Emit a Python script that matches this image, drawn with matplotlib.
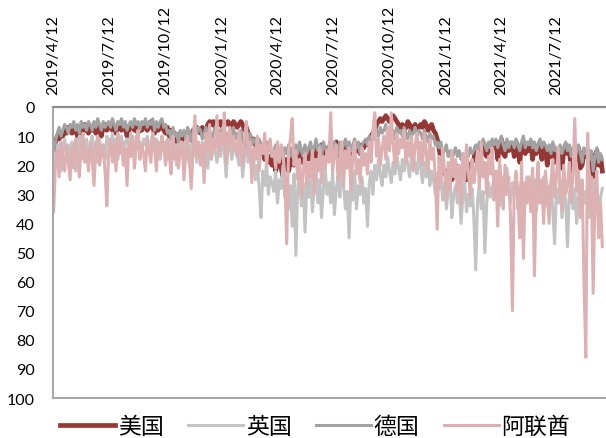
import matplotlib
matplotlib.use("Agg")
import matplotlib.pyplot as plt
import pandas as pd

# rank samples every 3 days starting 2019/4/12 (lower = better)
start = "2019-04-12"
step_days = 3

us_rank = [
    17, 12, 10, 11, 9, 10, 8, 9, 7, 8,
    9, 7, 8, 10, 7, 9, 8, 6, 8, 9,
    7, 8, 6, 9, 7, 8, 10, 7, 6, 8,
    7, 6, 8, 7, 9, 6, 7, 8, 6, 7,
    10, 8, 7, 6, 8, 7, 9, 6, 8, 7,
    6, 8, 7, 5, 7, 9, 6, 8, 7, 6,
    8, 9, 7, 10, 8, 11, 9, 12, 10, 9,
    11, 10, 12, 9, 11, 10, 8, 9, 7, 8,
    9, 7, 10, 8, 6, 5, 6, 5, 7, 5,
    6, 5, 7, 5, 6, 5, 6, 7, 5, 6,
    7, 6, 5, 6, 8, 7, 9, 10, 12, 11,
    13, 14, 12, 16, 15, 18, 16, 19, 17, 20,
    18, 22, 19, 17, 21, 24, 20, 18, 22, 19,
    17, 20, 16, 18, 15, 19, 17, 14, 16, 18,
    15, 17, 14, 16, 19, 15, 13, 16, 14, 17,
    15, 13, 16, 14, 12, 15, 17, 14, 16, 13,
    15, 17, 14, 16, 13, 15, 14, 16, 13, 14,
    12, 13, 11, 10, 9, 8, 6, 5, 4, 5,
    4, 3, 4, 5, 4, 3, 4, 5, 6, 7,
    6, 8, 7, 5, 6, 8, 7, 6, 8, 7,
    6, 7, 5, 6, 8, 7, 6, 8, 9, 11,
    14, 18, 21, 23, 22, 24, 21, 25, 23, 20,
    22, 26, 24, 21, 23, 25, 22, 20, 19, 18,
    14, 17, 13, 15, 12, 16, 17, 13, 15, 12,
    14, 12, 18, 13, 11, 16, 17, 12, 15, 14,
    13, 17, 12, 14, 19, 13, 12, 16, 13, 15,
    12, 18, 13, 16, 14, 12, 18, 13, 14, 20,
    14, 17, 13, 19, 15, 18, 14, 21, 15, 13,
    16, 14, 22, 15, 19, 16, 14, 21, 20, 15,
    17, 15, 19, 16, 24, 18, 15, 20, 17, 22,
]
uk_rank = [
    16, 20, 13, 18, 22, 15, 11, 17, 13, 19,
    12, 16, 22, 14, 10, 18, 13, 16, 11, 20,
    14, 10, 17, 12, 19, 11, 15, 13, 18, 10,
    12, 16, 9, 14, 11, 18, 13, 10, 15, 12,
    11, 15, 9, 13, 17, 10, 14, 12, 16, 11,
    13, 10, 16, 12, 9, 15, 11, 14, 18, 10,
    15, 12, 18, 14, 11, 17, 13, 20, 12, 16,
    14, 18, 11, 16, 20, 13, 17, 12, 19, 14,
    16, 12, 18, 14, 21, 13, 17, 11, 15, 19,
    13, 17, 11, 15, 24, 14, 12, 18, 15, 13,
    16, 20, 14, 24, 17, 12, 19, 15, 22, 18,
    25, 20, 28, 38, 22, 27, 19, 30, 24, 26,
    29, 22, 33, 25, 28, 20, 31, 24, 35, 27,
    41, 23, 51, 28, 22, 34, 26, 43, 25, 31,
    24, 36, 27, 22, 33, 25, 38, 28, 21, 30,
    26, 33, 22, 37, 28, 24, 31, 20, 27, 35,
    29, 45, 25, 32, 22, 35, 27, 30, 24, 33,
    28, 41, 26, 22, 30, 20, 25, 18, 23, 27,
    20, 24, 17, 22, 26, 19, 23, 16, 21, 25,
    18, 22, 15, 20, 24, 17, 21, 19, 23, 16,
    21, 26, 19, 24, 18, 27, 22, 25, 30, 23,
    28, 24, 32, 26, 35, 29, 25, 38, 30, 27,
    33, 28, 40, 31, 26, 36, 30, 34, 28, 38,
    56, 32, 27, 35, 29, 50, 33, 26, 31, 28,
    25, 31, 22, 34, 27, 24, 30, 21, 28, 33,
    26, 30, 23, 35, 28, 25, 32, 27, 24, 30,
    28, 33, 25, 36, 29, 26, 31, 24, 34, 27,
    30, 26, 35, 47, 28, 33, 25, 38, 29, 32,
    48, 30, 26, 35, 28, 40, 31, 27, 36, 29,
    33, 27, 38, 30, 25, 35, 29, 41, 31, 28,
]
de_rank = [
    15, 12, 9, 7, 10, 8, 6, 7, 9, 6,
    7, 5, 8, 6, 9, 5, 7, 6, 8, 5,
    6, 8, 5, 7, 4, 6, 8, 5, 7, 6,
    5, 7, 4, 6, 8, 5, 6, 4, 7, 5,
    8, 6, 5, 7, 4, 6, 5, 8, 5, 6,
    4, 7, 5, 6, 4, 8, 5, 7, 5, 4,
    7, 6, 9, 8, 11, 7, 10, 9, 12, 8,
    10, 8, 11, 7, 9, 12, 8, 6, 9, 7,
    8, 11, 9, 7, 10, 8, 12, 9, 7, 10,
    8, 11, 7, 10, 9, 12, 8, 10, 7, 11,
    9, 13, 8, 11, 14, 10, 12, 9, 13, 11,
    12, 15, 11, 14, 13, 16, 12, 15, 14, 17,
    15, 13, 17, 14, 16, 18, 14, 16, 13, 17,
    14, 18, 13, 16, 12, 15, 17, 13, 16, 14,
    12, 16, 14, 11, 15, 13, 17, 12, 14, 16,
    13, 11, 15, 12, 14, 16, 12, 15, 13, 11,
    14, 12, 15, 13, 11, 14, 12, 16, 13, 12,
    11, 13, 10, 12, 9, 11, 8, 10, 7, 9,
    8, 6, 9, 7, 10, 8, 11, 7, 9, 8,
    10, 7, 9, 11, 8, 10, 9, 7, 10, 8,
    9, 11, 8, 10, 12, 9, 11, 10, 13, 12,
    14, 12, 16, 15, 13, 17, 15, 18, 16, 14,
    17, 15, 18, 16, 19, 15, 17, 14, 16, 15,
    13, 15, 12, 14, 11, 13, 15, 12, 14, 11,
    13, 11, 14, 12, 10, 13, 15, 11, 14, 12,
    12, 14, 11, 13, 15, 12, 10, 14, 12, 13,
    11, 14, 12, 15, 13, 11, 14, 12, 13, 15,
    13, 16, 12, 15, 14, 17, 13, 16, 14, 12,
    15, 13, 17, 14, 18, 15, 13, 16, 19, 14,
    16, 14, 18, 15, 22, 17, 14, 19, 16, 18,
]
uae_rank = [
    36, 20, 15, 24, 12, 18, 22, 13, 19, 25,
    14, 21, 11, 17, 24, 13, 9, 19, 15, 22,
    12, 18, 27, 14, 10, 20, 16, 13, 22, 34,
    15, 11, 19, 13, 22, 9, 16, 12, 20, 14,
    27, 12, 17, 10, 21, 14, 8, 18, 13, 16,
    22, 11, 15, 19, 9, 14, 22, 12, 17, 10,
    14, 20, 11, 16, 23, 10, 18, 13, 21, 15,
    12, 25, 16, 10, 19, 28, 14, 3, 17, 12,
    20, 13, 26, 9, 15, 6, 18, 11, 14, 3,
    16, 9, 13, 2, 19, 11, 7, 15, 10, 13,
    17, 8, 14, 20, 11, 5, 16, 12, 26, 14,
    18, 10, 22, 13, 16, 9, 20, 14, 11, 17,
    15, 21, 12, 19, 13, 16, 24, 47, 15, 11,
    4, 20, 15, 25, 18, 31, 22, 16, 27, 19,
    24, 15, 30, 18, 22, 14, 26, 17, 21, 15,
    19, 2, 22, 16, 13, 25, 18, 12, 27, 15,
    21, 14, 29, 17, 12, 23, 18, 26, 14, 20,
    16, 23, 12, 19, 8, 2, 17, 11, 20, 14,
    10, 18, 7, 15, 2, 13, 20, 9, 16, 11,
    14, 8, 19, 12, 17, 10, 22, 13, 9, 18,
    12, 20, 9, 16, 22, 11, 18, 14, 25, 42,
    17, 26, 14, 22, 32, 19, 28, 15, 24, 18,
    29, 20, 34, 16, 25, 13, 22, 31, 18, 26,
    21, 15, 28, 12, 24, 19, 30, 17, 23, 14,
    32, 22, 41, 18, 27, 35, 20, 30, 24, 38,
    70, 28, 22, 31, 45, 19, 52, 26, 33, 24,
    36, 21, 58, 28, 19, 33, 25, 40, 22, 30,
    40, 26, 18, 31, 24, 14, 28, 35, 20, 30,
    27, 19, 33, 23, 4, 29, 22, 38, 25, 60,
    86, 9, 35, 24, 64, 30, 22, 45, 33, 48,
]

series_names = ["美国", "英国", "德国", "阿联酋"]
series_colors = ["#953735", "#C3C3C3", "#A2A2A2", "#DDB1B1"]
series_widths = [3.4, 2.2, 2.2, 2.2]
tick_dates = ["2019-04-12", "2019-07-12", "2019-10-12", "2020-01-12", "2020-04-12",
              "2020-07-12", "2020-10-12", "2021-01-12", "2021-04-12", "2021-07-12"]

dates = pd.date_range(start, periods=len(us_rank), freq=f"{step_days}D")

plt.rcParams["font.family"] = ["Lato", "DejaVu Sans"]

fig = plt.figure(figsize=(6.06, 4.39), dpi=100)
ax = fig.add_axes([0.0875, 0.091, 0.9125, 0.663])

for name, vals, c, lw in zip(series_names, [us_rank, uk_rank, de_rank, uae_rank],
                             series_colors, series_widths):
    ax.plot(dates, vals, color=c, lw=lw, label=name, solid_joinstyle="round")

ax.set_ylim(100, 0)
ax.set_yticks(range(0, 101, 10))
ax.set_xlim(pd.Timestamp(start) - pd.Timedelta(days=1), pd.Timestamp(start) + pd.Timedelta(days=903))

ticks = pd.to_datetime(tick_dates)
ax.set_xticks(ticks)
ax.set_xticklabels([f"{d.year}/{d.month}/{d.day}" for d in ticks], rotation=90)
ax.xaxis.tick_top()
ax.tick_params(axis="x", length=0, pad=9, labelsize=11.5)
ax.tick_params(axis="y", length=0, pad=13, labelsize=11.5)

ax.spines["right"].set_visible(False)
ax.spines["top"].set_color("#8C8C8C")
ax.spines["top"].set_linewidth(1.6)
ax.spines["left"].set_color("#A6A6A6")
ax.spines["left"].set_linewidth(1.4)
ax.spines["bottom"].set_color("#A6A6A6")
ax.spines["bottom"].set_linewidth(1.4)

fig.legend(loc="center", bbox_to_anchor=(0.52, 0.027), ncol=4, frameon=False,
           handlelength=2.4, handletextpad=0.13, columnspacing=1.05,
           prop={"family": ["Noto Sans CJK SC"], "size": 16.5, "weight": "light"})

fig.savefig("out.png", dpi=100)
